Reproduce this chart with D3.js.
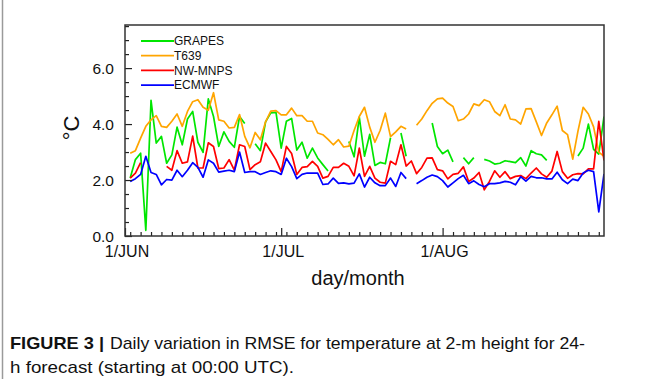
<!DOCTYPE html>
<html>
<head>
<meta charset="utf-8">
<script src="https://cdn.jsdelivr.net/npm/d3@7"></script>
<style>
  html, body { margin: 0; padding: 0; background: #ffffff; }
  svg { display: block; }
  text { font-family: "Liberation Sans", Arial, Helvetica, sans-serif; fill: #111; }
</style>
</head>
<body>
<svg id="chart" width="653" height="379"></svg>
<script>
// ---- data (day offset from 1 June; values in °C) ----
const days = d3.range(1, 93);
const seriesNames = ["GRAPES", "T639", "NW-MNPS", "ECMWF"];
const seriesColors = ["#00e600", "#ffa500", "#ff0000", "#0000ff"];

const grapes = [
  2.07, 2.73, 2.96, 0.2, 4.85, 3.32, 3.56, 2.6, 2.9, 3.89,
  3.26, 4.18, 4.45, 3.35, 2.99, 4.9, 4.27, 3.2, 3.72, 3.38,
  3.17, 4.27, 4.02, null, 3.3, 3.05, 4.08, 4.4, 4.42, 3.14,
  4.1, 4.2, 3.07, 3.35, 2.78, 3.14, 2.79, 2.55, 2.32, null,
  null, null, 3.38, 2.83, 4.25, 2.85, 3.63, 2.52, 2.63, 2.58,
  3.51, null, 3.68, 2.85, null, null, null, null, 4.04, 3.2,
  2.94, 3.07, 2.65, null, 2.8, 2.58, 2.8, null, 2.74, 2.68,
  2.57, 2.6, 2.69, 2.66, 2.62, 2.8, 2.5, 3.05, 2.94, 2.9,
  2.7, null, null, null, null, null, 2.86, 3.14, 4.0, 3.1,
  2.93, 4.27
];
const t639 = [
  2.96, 3.05, 3.5, 3.92, 4.15, 4.3, 3.92, 3.88, 4.1, 4.36,
  3.92, 4.45, 4.8, 4.87, 4.6, 4.49, 5.12, 4.15, 4.1, 3.86,
  3.88, 4.34, 3.56, 3.15, 3.7, 3.44, 4.08, 4.46, 4.48, 4.33,
  4.33, 4.57, 4.3, 4.3, 4.1, 4.1, 3.68, 3.62, 3.45, 3.26,
  3.44, 3.18, 3.21, 3.77, 4.27, 4.6, 3.89, 3.35, 3.77, 4.39,
  3.55, 3.72, 3.92, 3.82, null, 3.96, 4.18, 4.48, 4.74, 4.9,
  4.93, 4.75, 4.63, 4.12, 4.18, 4.36, 4.72, 4.66, 4.87, 4.8,
  4.45, 4.3, 4.69, 4.18, 4.15, 4.0, 4.54, 4.55, 4.08, 3.59,
  4.04, 4.33, 4.64, 3.77, 3.62, 2.75, 3.75, 4.6, 4.36, 3.9,
  3.0, 2.85
];
const nwmnps = [
  2.07, 2.25, 2.62, null, null, null, null, 2.49, 2.35, 3.05,
  2.6, 2.65, 3.57, 2.43, 2.43, 3.33, 3.2, 2.41, 2.43, 2.73,
  2.35, 3.26, 3.2, 2.37, 2.55, 2.65, 3.32, 3.02, 2.72, 2.3,
  3.2, 2.95, 2.2, 2.45, 2.48, 2.67, 2.49, 2.07, 2.13, 2.45,
  2.45, 2.6, 2.49, 2.15, 3.14, 2.13, 2.49, 2.07, 1.92, 1.89,
  2.67, 2.55, 3.26, 2.5, 2.68, 2.23, 2.45, 2.78, 2.79, 2.37,
  2.33, 2.04, 2.2, 2.24, 2.47, 1.95, 2.07, 2.27, 1.65, 1.95,
  2.33, 2.1, 2.3, 2.05, 2.13, 2.16, 2.05, 2.25, 2.43, 2.22,
  2.1, 2.32, 3.02, 2.3, 2.06, 2.19, 2.23, 2.22, 2.4, 2.4,
  4.1, 2.7
];
const ecmwf = [
  1.95, 2.05, 2.2, 2.85, 2.27, 2.2, 1.83, 2.02, 2.0, 2.35,
  2.12, 2.35, 2.62, 2.45, 2.1, 2.72, 2.6, 2.28, 2.32, 2.35,
  2.3, 3.0, 2.27, 2.3, 2.3, 2.2, 2.27, 2.33, 2.3, 2.2,
  2.78, 2.48, 2.05, 2.2, 2.25, 2.25, 2.25, 1.84, 1.86, 2.07,
  1.88, 1.9, 1.86, 1.89, 2.22, 1.75, 2.1, 1.9, 1.8, 1.8,
  2.07, 1.77, 2.27, 2.05, null, 1.87, 1.98, 2.1, 2.18, 2.12,
  1.98, 1.75, 1.9, 2.05, 2.17, 1.87, 1.97, 1.84, 1.76, 1.87,
  1.87, 1.9, 1.95, 1.92, 1.83, 2.12, 1.96, 2.13, 2.08, 2.08,
  2.04, 2.04, 2.28, 2.01, 1.87, 2.03, 1.98, 2.25, 2.35, 2.3,
  0.86, 2.22
];
const xTickDays = [0, 30, 61];
const xTickLabels = ["1/JUN", "1/JUL", "1/AUG"];
const yTicks = [0, 2, 4, 6];
const yTickLabels = ["0.0", "2.0", "4.0", "6.0"];
const captionBold = "FIGURE 3 |";
const captionLine1 = "Daily variation in RMSE for temperature at 2-m height for 24-";
const captionLine2 = "h forecast (starting at 00:00 UTC).";

// ---- layout ----
const svg = d3.select("#chart");
const L = 125, R = 604, T = 25, B = 236;
const x = d3.scaleLinear().domain([0, 92]).range([L, R]);
const y = d3.scaleLinear().domain([0, 7.54]).range([B, T]);

// panel border line on the left
svg.append("line").attr("x1", 2.5).attr("x2", 2.5).attr("y1", 0).attr("y2", 379)
  .attr("stroke", "#9a9a9a").attr("stroke-width", 1.5);

const plot = svg.append("g");
const clip = svg.append("clipPath").attr("id", "clip")
  .append("rect").attr("x", L).attr("y", T).attr("width", R - L).attr("height", B - T);

const series = [grapes, t639, nwmnps, ecmwf];
const line = d3.line()
  .defined(d => d[1] != null)
  .x(d => x(d[0]))
  .y(d => y(d[1]));

const lines = plot.append("g").attr("clip-path", "url(#clip)");
series.forEach((vals, i) => {
  lines.append("path")
    .datum(days.map((d, k) => [d, vals[k]]))
    .attr("fill", "none")
    .attr("stroke", seriesColors[i])
    .attr("stroke-width", 1.7)
    .attr("stroke-linejoin", "round")
    .attr("d", line);
});

// ---- axes (ticks pointing inward) ----
const yMinor = d3.range(0, 7.51, 0.5).filter(v => !yTicks.includes(v));
const yAxisMajor = d3.axisRight(y).tickValues(yTicks).tickSize(7).tickFormat("");
const yAxisMinor = d3.axisRight(y).tickValues(yMinor).tickSize(4).tickFormat("");
[yAxisMajor, yAxisMinor].forEach(ax => {
  const g = svg.append("g").attr("transform", `translate(${L},0)`).call(ax);
  g.select(".domain").remove();
  g.selectAll("line").attr("stroke", "#222").attr("stroke-width", 1.2);
});
const xMinor = d3.range(1, 92, 2).filter(v => !xTickDays.includes(v));
const xAxisMajor = d3.axisTop(x).tickValues(xTickDays).tickSize(8).tickFormat("");
const xAxisMinor = d3.axisTop(x).tickValues(xMinor).tickSize(4).tickFormat("");
[xAxisMajor, xAxisMinor].forEach(ax => {
  const g = svg.append("g").attr("transform", `translate(0,${B})`).call(ax);
  g.select(".domain").remove();
  g.selectAll("line").attr("stroke", "#222").attr("stroke-width", 1.2);
});

// frame
svg.append("rect").attr("x", L).attr("y", T).attr("width", R - L).attr("height", B - T)
  .attr("fill", "none").attr("stroke", "#333").attr("stroke-width", 1.5);

// y tick labels
svg.selectAll(".ylab").data(yTicks).enter().append("text")
  .attr("x", 114).attr("y", d => y(d) + 5.5)
  .attr("text-anchor", "end").attr("font-size", 15.5)
  .text((d, i) => yTickLabels[i]);

// x tick labels
svg.selectAll(".xlab").data(xTickDays).enter().append("text")
  .attr("x", d => x(d) + 2).attr("y", 257)
  .attr("text-anchor", "middle").attr("font-size", 16)
  .text((d, i) => xTickLabels[i]);

// axis titles
svg.append("text").attr("x", 358).attr("y", 285)
  .attr("text-anchor", "middle").attr("font-size", 20).text("day/month");
svg.append("text").attr("transform", "translate(79,128) rotate(-90)")
  .attr("text-anchor", "middle").attr("font-size", 22).text("°C");

// legend
const leg = svg.append("g");
seriesNames.forEach((n, i) => {
  const ly = 41 + i * 14.7;
  leg.append("line").attr("x1", 141).attr("x2", 174).attr("y1", ly).attr("y2", ly)
    .attr("stroke", seriesColors[i]).attr("stroke-width", 1.8);
  leg.append("text").attr("x", 174).attr("y", ly + 4.3).attr("font-size", 12).text(n);
});

// caption
svg.append("text").attr("x", 10).attr("y", 349).attr("font-size", 17)
  .attr("font-weight", "bold").attr("textLength", 94).attr("lengthAdjust", "spacingAndGlyphs")
  .text(captionBold);
svg.append("text").attr("x", 110).attr("y", 349).attr("font-size", 17)
  .attr("textLength", 475).attr("lengthAdjust", "spacingAndGlyphs")
  .text(captionLine1);
svg.append("text").attr("x", 10).attr("y", 373).attr("font-size", 17)
  .attr("textLength", 284).attr("lengthAdjust", "spacingAndGlyphs")
  .text(captionLine2);
</script>
</body>
</html>
